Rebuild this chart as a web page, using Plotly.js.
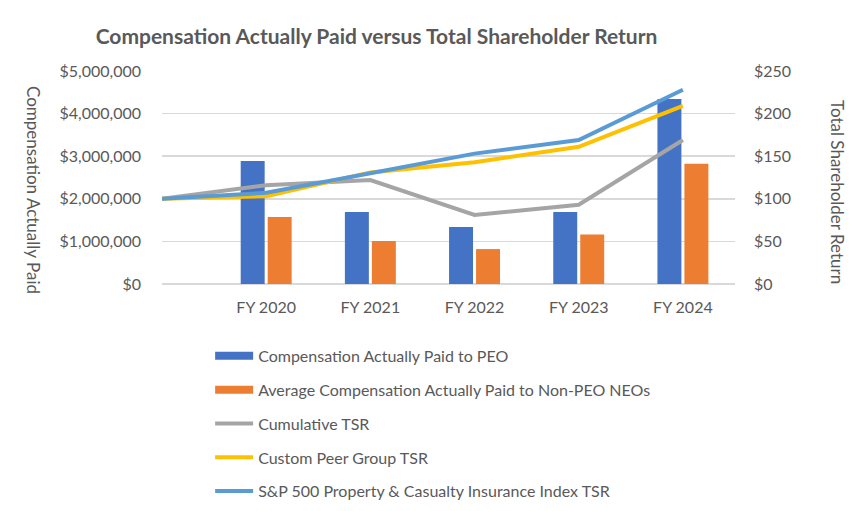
<!DOCTYPE html>
<html>
<head>
<meta charset="utf-8">
<script src="https://cdn.plot.ly/plotly-3.0.1.min.js"></script>
<style>
  html, body { margin: 0; padding: 0; background: #ffffff; }
  #chart { width: 862px; height: 511px; }
</style>
</head>
<body>
<div id="chart"></div>
<script>
// Fiscal years shown on the category axis
const fiscalYears = ['FY 2020', 'FY 2021', 'FY 2022', 'FY 2023', 'FY 2024'];

// Compensation actually paid (USD)
const capPEO = [2890000, 1690000, 1340000, 1690000, 4340000];
const capNonPEO = [1570000, 1010000, 820000, 1160000, 2820000];

// Value of a $100 investment: starting point followed by each fiscal year end
const tsrPoints = ['Start', 'FY 2020', 'FY 2021', 'FY 2022', 'FY 2023', 'FY 2024'];
const cumulativeTSR = [100, 116, 122, 81, 93, 169];
const peerGroupTSR = [100, 103, 131, 143, 161, 209];
const spIndexTSR = [100, 107, 130, 153, 169, 228];

const FONT = 'Lato, "Open Sans", sans-serif';
const TEXT = '#595959';

// Bars sit on the fiscal-year positions; TSR lines begin one step earlier at the start point
const barX = fiscalYears.map((_, i) => i + 1);
const lineX = tsrPoints.map((_, i) => i);

const traces = [
  { type: 'bar', x: barX, y: capPEO, name: 'Compensation Actually Paid to PEO',
    marker: { color: '#4472C4' }, showlegend: false, hoverinfo: 'y' },
  { type: 'bar', x: barX, y: capNonPEO, name: 'Average Compensation Actually Paid to Non-PEO NEOs',
    marker: { color: '#ED7D31' }, showlegend: false, hoverinfo: 'y' },
  { type: 'scatter', mode: 'lines', x: lineX, y: cumulativeTSR, yaxis: 'y2',
    name: 'Cumulative TSR', line: { color: '#A5A5A5', width: 4 }, showlegend: false },
  { type: 'scatter', mode: 'lines', x: lineX, y: peerGroupTSR, yaxis: 'y2',
    name: 'Custom Peer Group TSR', line: { color: '#FFC000', width: 4 }, showlegend: false },
  { type: 'scatter', mode: 'lines', x: lineX, y: spIndexTSR, yaxis: 'y2',
    name: 'S&P 500 Property & Casualty Insurance Index TSR', line: { color: '#5B9BD5', width: 4 }, showlegend: false }
];

// Legend entries: wide swatches for the bar series, thick strokes for the lines
const legendStyles = [
  { color: '#4472C4', width: 8 },
  { color: '#ED7D31', width: 8 },
  { color: '#A5A5A5', width: 4 },
  { color: '#FFC000', width: 4 },
  { color: '#5B9BD5', width: 4 }
];
traces.slice().forEach((t, i) => {
  traces.push({
    type: 'scatter', mode: 'lines', x: [null], y: [null],
    name: t.name, legendgroup: 'g' + i, showlegend: true, hoverinfo: 'skip',
    line: { color: legendStyles[i].color, width: legendStyles[i].width }
  });
});

const layout = {
  width: 862, height: 511,
  paper_bgcolor: '#ffffff', plot_bgcolor: '#ffffff',
  margin: { l: 162, r: 127, t: 71, b: 227, autoexpand: false },
  font: { family: FONT, color: TEXT, size: 16 },
  title: {
    text: 'Compensation Actually Paid versus Total Shareholder Return',
    font: { family: FONT, size: 21, color: TEXT, weight: 'bold' },
    x: 0.4368, xanchor: 'center', xref: 'container',
    y: 1 - 37 / 511, yanchor: 'middle', yref: 'container'
  },
  barmode: 'group', bargap: 0.482, bargroupgap: 0.112,
  xaxis: {
    range: [0, 5.5], tickvals: barX, ticktext: fiscalYears,
    showgrid: false, zeroline: false, showline: false, ticks: '',
    ticklabelstandoff: 12, tickfont: { family: FONT, size: 16, color: TEXT },
    fixedrange: true
  },
  yaxis: {
    range: [0, 5000000], dtick: 1000000, tickprefix: '$', tickformat: ',d',
    showgrid: true, gridcolor: '#d9d9d9', gridwidth: 1.5,
    zeroline: true, zerolinecolor: '#d9d9d9', zerolinewidth: 1.5,
    showline: false, ticks: '', ticklabelstandoff: 20,
    tickfont: { family: FONT, size: 16, color: TEXT }, fixedrange: true
  },
  yaxis2: {
    overlaying: 'y', side: 'right', range: [0, 250], dtick: 50, tickprefix: '$',
    showgrid: false, zeroline: false, showline: false, ticks: '', ticklabelstandoff: 18,
    tickfont: { family: FONT, size: 16, color: TEXT }, fixedrange: true
  },
  legend: {
    orientation: 'v', x: 0.084, xanchor: 'left', y: -0.258, yanchor: 'top',
    itemwidth: 38, tracegroupgap: 10, traceorder: 'grouped',
    font: { family: FONT, size: 16, color: TEXT }, bgcolor: 'rgba(0,0,0,0)'
  },
  annotations: [
    { text: 'Compensation Actually Paid', xref: 'paper', yref: 'paper',
      x: (34 - 162) / 573, y: (284 - 190) / 213, xanchor: 'center', yanchor: 'middle',
      textangle: 90, showarrow: false, font: { family: FONT, size: 17, color: TEXT } },
    { text: 'Total Shareholder Return', xref: 'paper', yref: 'paper',
      x: (838 - 162) / 573, y: (284 - 192) / 213, xanchor: 'center', yanchor: 'middle',
      textangle: 90, showarrow: false, font: { family: FONT, size: 17, color: TEXT } }
  ],
  hovermode: false
};

Plotly.newPlot('chart', traces, layout, { displayModeBar: false, staticPlot: true });
</script>
</body>
</html>
